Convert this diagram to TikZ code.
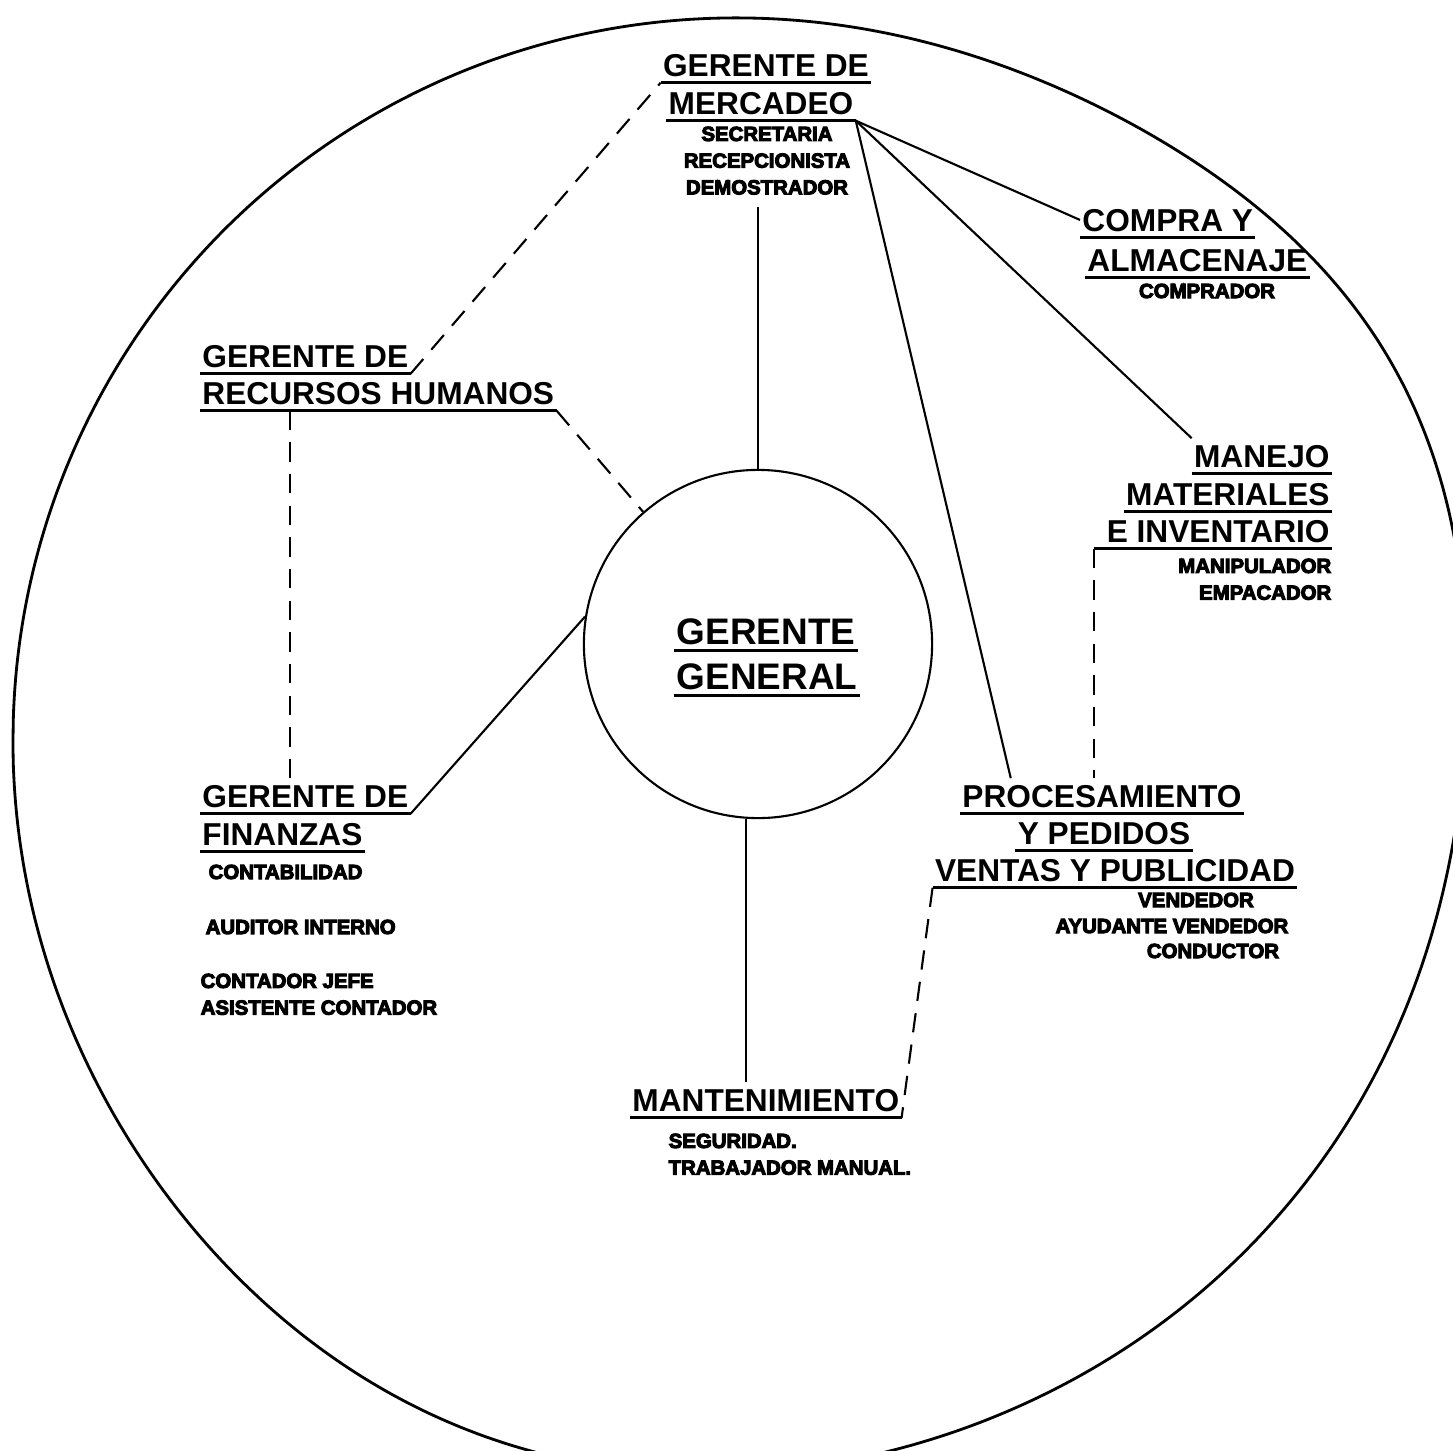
\documentclass[tikz,border=0pt]{standalone}
\usepackage{fontspec}
\setmainfont{Liberation Sans}
\newfontfamily\heavy{Liberation Sans Bold}[FakeBold=5]
\usetikzlibrary{calc}

\begin{document}
\begin{tikzpicture}[x=0.01cm,y=-0.01cm,
    ul/.style={line width=0.9pt},
    hd/.style={font=\fontsize{9}{10}\selectfont\bfseries,inner xsep=0.5pt,inner ysep=1.7pt,text depth=0pt,
      append after command={(\tikzlastnode.south west) edge[ul] (\tikzlastnode.south east)}},
    big/.style={hd,font=\fontsize{10.5}{12}\selectfont\bfseries},
    sub/.style={font=\heavy\fontsize{5.8}{7.6}\selectfont,inner sep=0pt},
    ln/.style={line width=0.6pt},
    dsh/.style={line width=0.6pt,dash pattern=on 5.5pt off 3.5pt}]
  \fill[white] (0,0) rectangle (1453,1451);
  \useasboundingbox (0,0) rectangle (1453,1451);
  \begin{scope}
    \clip (0,0) rectangle (1453,1451);
    \draw[line width=0.8pt] plot[domain=-180:180,samples=181,smooth cycle]
      ({735+(722+35*exp(-((\x+30)/25)^2)+18*exp(-((\x-110)/30)^2))*cos(\x)},
       {740+(722+35*exp(-((\x+30)/25)^2)+18*exp(-((\x-110)/30)^2))*sin(\x)});
  \end{scope}

  \node[circle,draw,ln,minimum size=3.48cm,inner sep=0pt] (gg) at (758,644) {};
  \node[big,anchor=base] (gg1) at (766,644) {GERENTE};
  \node[big,anchor=base] (gg2) at (767,689) {GENERAL};

  \node[hd,anchor=base] (mer1) at (766,76) {GERENTE DE};
  \node[hd,anchor=base] (mer2) at (761,114) {MERCADEO};
  \node[sub,anchor=north,align=center] (mers) at (767,126) {SECRETARIA\\RECEPCIONISTA\\DEMOSTRADOR};

  \node[hd,anchor=base west] (com1) at (1080,231) {COMPRA Y};
  \node[hd,anchor=base west] (com2) at (1085,271) {ALMACENAJE};
  \node[sub,anchor=base] (coms) at (1207,298) {COMPRADOR};

  \node[hd,anchor=base east] (man1) at (1332,467) {MANEJO};
  \node[hd,anchor=base east] (man2) at (1332,505) {MATERIALES};
  \node[hd,anchor=base east] (man3) at (1332,542) {E INVENTARIO};
  \node[sub,anchor=north east,align=right] (mans) at (1332,558) {MANIPULADOR\\EMPACADOR};

  \node[hd,anchor=base west] (rh1) at (200,367) {GERENTE DE};
  \node[hd,anchor=base west] (rh2) at (200,404) {RECURSOS HUMANOS};

  \node[hd,anchor=base west] (fin1) at (200,807) {GERENTE DE};
  \node[hd,anchor=base west] (fin2) at (200,845) {FINANZAS};
  \node[sub,anchor=base west] (fs1) at (208,879) {CONTABILIDAD};
  \node[sub,anchor=base west] (fs2) at (205,934) {AUDITOR INTERNO};
  \node[sub,anchor=north west,align=left] (fs3) at (200,973) {CONTADOR JEFE\\ASISTENTE CONTADOR};

  \node[hd,anchor=base] (pro1) at (1102,807) {PROCESAMIENTO};
  \node[hd,anchor=base] (pro2) at (1104,844) {Y PEDIDOS};
  \node[hd,anchor=base] (pro3) at (1115,881) {VENTAS Y PUBLICIDAD};
  \node[sub,anchor=base] (ps1) at (1196,907) {VENDEDOR};
  \node[sub,anchor=base] (ps2) at (1172,933) {AYUDANTE VENDEDOR};
  \node[sub,anchor=base] (ps3) at (1213,958) {CONDUCTOR};

  \node[hd,anchor=base west] (mnt) at (630,1111) {MANTENIMIENTO};
  \node[sub,anchor=north west,align=left] (mnts) at (668,1133) {SEGURIDAD.\\TRABAJADOR MANUAL.};

  \draw[ln,shorten <=1.2mm] (gg.north |- mers.south) -- (gg.north);
  \draw[ln] (mer2.south east) -- (com1.west);
  \draw[ln] (mer2.south east) -- (man1.north west);
  \draw[ln] (mer2.south east) -- (pro1.169);
  \draw[dsh] (rh1.south east) -- (mer1.south west);
  \draw[dsh] (rh2.south east) -- (gg.131);
  \draw[dsh] ([xshift=0.9cm]rh2.south west) -- ([xshift=0.9cm]fin1.north west);
  \draw[ln] (fin1.south east) -- (gg.171);
  \draw[ln] (gg.266) -- (gg.266 |- mnt.north);
  \draw[ul] (man3.south west) -- ++(-10,0) coordinate (inv);
  \draw[dsh] (inv) -- (inv |- pro1.north);
  \draw[dsh] (pro3.south west) -- (mnt.south east);
\end{tikzpicture}
\end{document}
